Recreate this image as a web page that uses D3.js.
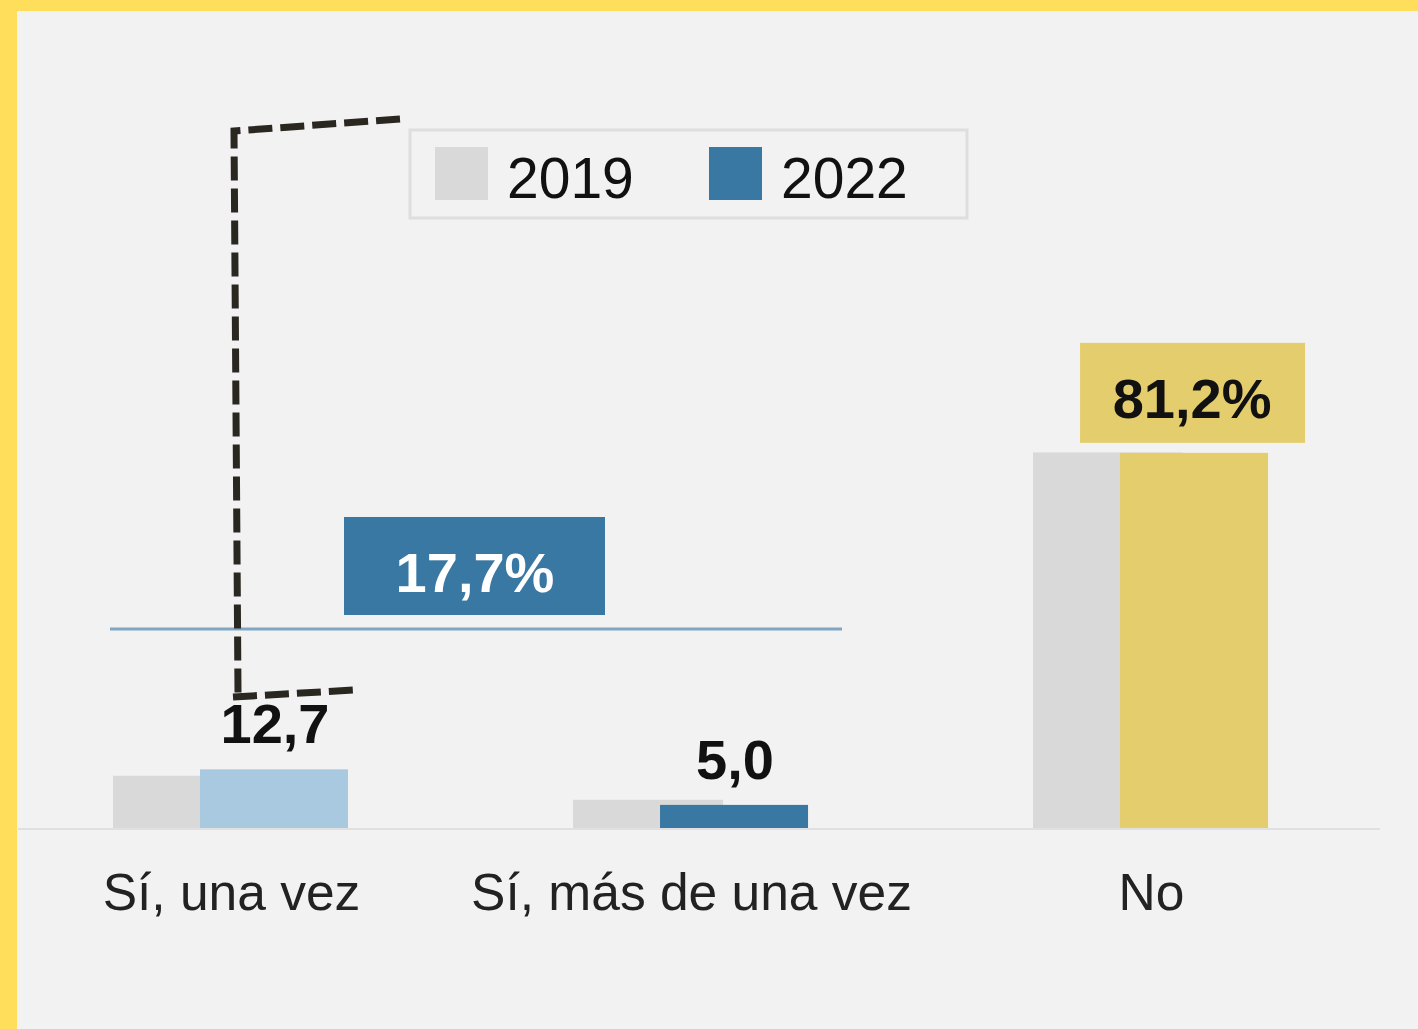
<!DOCTYPE html>
<html>
<head>
<meta charset="utf-8">
<script src="https://cdn.jsdelivr.net/npm/d3@7"></script>
<style>
  body { margin: 0; background: #f2f2f2; }
  svg { display: block; font-family: "Liberation Sans", Arial, sans-serif; }
</style>
</head>
<body>
<div id="chart"></div>
<script>
// data
const categories = ["Sí, una vez", "Sí, más de una vez", "No"];
const years = ["2019", "2022"];
const values2019 = [11.3, 6.1, 81.3];
const values2022 = [12.7, 5.0, 81.2];
const labels2022 = ["12,7", "5,0", "81,2%"];
const colors2022 = ["#a9c9e1", "#3878a2", "#e4cd6c"];
const totalYes = "17,7%";

const width = 1418, height = 1029;
const baseline = 828;

const svg = d3.select("#chart").append("svg")
    .attr("width", width)
    .attr("height", height);

// yellow frame + grey panel
svg.append("rect").attr("width", width).attr("height", height).attr("fill", "#fede5a");
svg.append("rect").attr("x", 17).attr("y", 11)
    .attr("width", width - 17).attr("height", height - 11).attr("fill", "#f2f2f2");

const x0 = d3.scaleBand().domain(categories).range([113, 1270]).paddingInner(0.485).paddingOuter(0);
const x1 = d3.scaleOrdinal().domain(years).range([0, 87]);
const barW = 150;
const y = d3.scaleLinear().domain([0, 100]).range([baseline, baseline - 462]);

// baseline
svg.append("line")
    .attr("x1", 18).attr("x2", 1380)
    .attr("y1", baseline + 1).attr("y2", baseline + 1)
    .attr("stroke", "#e0e0e0").attr("stroke-width", 2);

// 2019 bars (behind)
svg.selectAll(".bar2019")
    .data(categories)
    .enter().append("rect")
    .attr("class", "bar2019")
    .attr("x", d => x0(d) + x1("2019"))
    .attr("width", barW)
    .attr("y", (d, i) => y(values2019[i]))
    .attr("height", (d, i) => baseline - y(values2019[i]))
    .attr("fill", "#d9d9d9");

// 2022 bars
svg.selectAll(".bar2022")
    .data(categories)
    .enter().append("rect")
    .attr("class", "bar2022")
    .attr("x", d => x0(d) + x1("2022"))
    .attr("width", barW - 2)
    .attr("y", (d, i) => y(values2022[i]))
    .attr("height", (d, i) => baseline - y(values2022[i]))
    .attr("fill", (d, i) => colors2022[i]);

// value labels for the first two bars
svg.selectAll(".val")
    .data(categories.slice(0, 2))
    .enter().append("text")
    .attr("class", "val")
    .attr("x", d => x0(d) + x1("2022") + barW / 2)
    .attr("y", (d, i) => y(values2022[i]) - 26)
    .attr("text-anchor", "middle")
    .style("font-size", "56px")
    .style("font-weight", "bold")
    .style("fill", "#111")
    .text((d, i) => labels2022[i]);

// boxed label above "No"
{
    const cx = x0("No") + x1("2022") + barW / 2;
    const top = y(values2022[2]);
    svg.append("rect")
        .attr("x", cx - 115).attr("y", top - 110)
        .attr("width", 225).attr("height", 100)
        .attr("fill", "#e4cd6c");
    svg.append("text")
        .attr("x", cx - 3).attr("y", top - 35)
        .attr("text-anchor", "middle")
        .style("font-size", "56px")
        .style("font-weight", "bold")
        .style("fill", "#111")
        .text(labels2022[2]);
}

// total "yes" annotation
svg.append("line")
    .attr("x1", 110).attr("x2", 842)
    .attr("y1", 629).attr("y2", 629)
    .attr("stroke", "#80a6c3").attr("stroke-width", 3);
svg.append("rect")
    .attr("x", 344).attr("y", 517)
    .attr("width", 261).attr("height", 98)
    .attr("fill", "#3878a2");
svg.append("text")
    .attr("x", 475).attr("y", 592)
    .attr("text-anchor", "middle")
    .style("font-size", "56px")
    .style("font-weight", "bold")
    .style("fill", "#fff")
    .text(totalYes);

// dashed bracket
svg.append("path")
    .attr("d", "M400,119 L234,131 L238,693")
    .attr("fill", "none")
    .attr("stroke", "#2a2620").attr("stroke-width", 7)
    .attr("stroke-dasharray", "24,8");
svg.append("path")
    .attr("d", "M233,697 L354,690")
    .attr("fill", "none")
    .attr("stroke", "#2a2620").attr("stroke-width", 7)
    .attr("stroke-dasharray", "24,8");

// category axis labels
svg.selectAll(".cat")
    .data(categories)
    .enter().append("text")
    .attr("class", "cat")
    .attr("x", d => x0(d) + x0.bandwidth() / 2)
    .attr("y", 910)
    .attr("text-anchor", "middle")
    .style("font-size", "51.5px")
    .style("fill", "#222")
    .text(d => d);

// legend
const legend = svg.append("g").attr("transform", "translate(410,130)");
legend.append("rect")
    .attr("width", 557).attr("height", 88)
    .attr("fill", "#f2f2f2")
    .attr("stroke", "#dedede").attr("stroke-width", 3);
const legendColors = ["#d9d9d9", "#3878a2"];
const legendX = [25, 299];
years.forEach((yr, i) => {
    legend.append("rect")
        .attr("x", legendX[i]).attr("y", 17)
        .attr("width", 53).attr("height", 53)
        .attr("fill", legendColors[i]);
    legend.append("text")
        .attr("x", legendX[i] + 72).attr("y", 68)
        .style("font-size", "57px")
        .style("fill", "#111")
        .text(yr);
});
</script>
</body>
</html>
